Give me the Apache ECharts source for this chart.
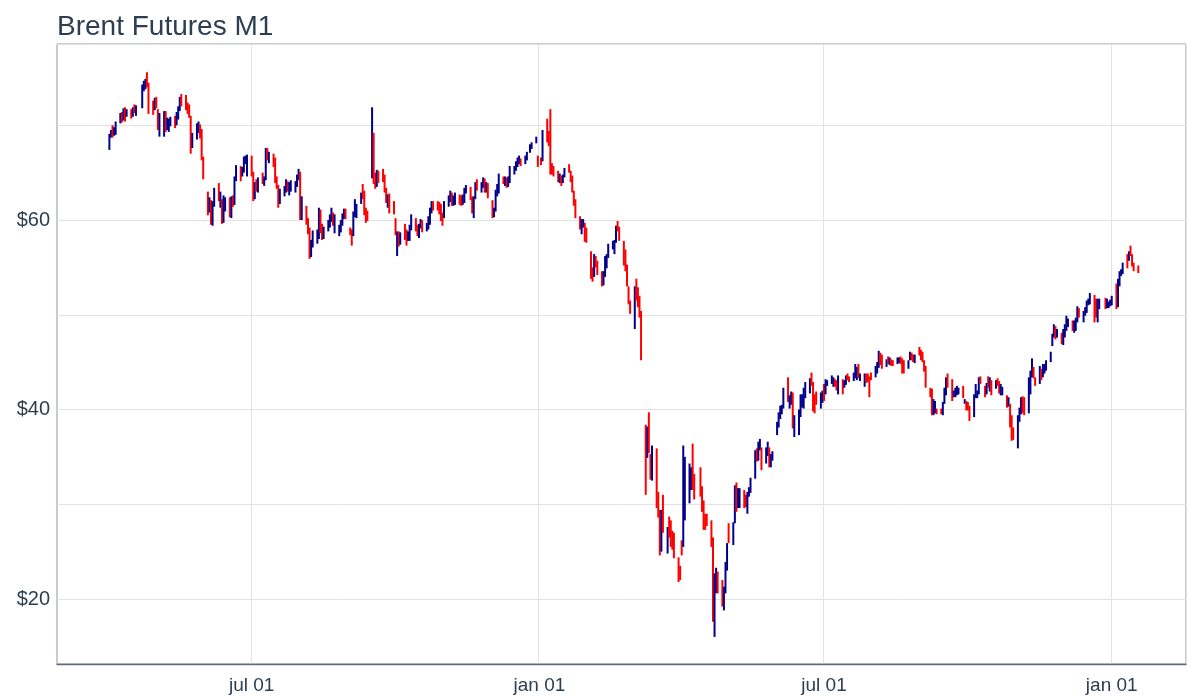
<!DOCTYPE html>
<html lang="en">
<head>
    <meta charset="UTF-8">
    <title>Brent Futures M1</title>
    <script src="https://cdn.jsdelivr.net/npm/echarts@6/dist/echarts.min.js"></script>
    <style>html, body { margin: 0; padding: 0; background: #fff; }</style>
</head>
<body>

<div id="main" style="width:1187px;height:697px"></div>
<script type="text/javascript">

    // daily bars, one line per week (Mon..Fri), null = no session
    var firstDay = '2019-04-01';

    var opens = [
        67.6, 69.0, 69.6, 69.3, 69.4,
        70.4, 71.1, 70.6, 71.7, 71.0,
        71.5, 71.2, 71.8, 71.4, null,
        72.0, 74.0, 74.5, 74.6, 74.3,
        72.2, 72.0, 72.8, 71.5, 70.5,
        69.5, 71.2, 69.9, 70.2, 70.4,
        70.6, 70.2, 71.2, 71.8, 72.6,
        72.5, 72.3, 72.0, 70.9, 67.8,
        68.8, 70.1, 70.1, 69.4, 66.6,
        62.9, 61.3, 62.0, 60.6, 61.7,
        63.3, 62.3, 62.1, 60.0, 61.3,
        62.0, 60.9, 62.1, 61.8, 64.5,
        65.4, 64.9, 65.1, 66.5, 65.0,
        66.7, 65.0, 62.4, 63.8, 63.3,
        64.3, 64.1, 64.3, 67.2, 66.5,
        66.7, 66.5, 64.4, 63.7, 62.0,
        62.6, 63.3, 63.9, 63.2, 63.3,
        63.4, 63.7, 64.7, 65.0, 60.5,
        61.3, 59.8, 59.0, 56.2, 57.4,
        58.5, 58.6, 61.0, 59.5, 58.2,
        58.9, 59.7, 60.1, 60.6, 59.3,
        58.4, 58.9, 59.6, 60.5, 61.1,
        59.0, 58.7, 58.4, 60.7, 60.8,
        61.8, 63.4, 62.6, 60.8, 60.5,
        64.6, 69.0, 64.6, 63.6, 64.7,
        65.2, 64.7, 63.1, 62.0, 62.7,
        61.9, 60.0, 57.0, 57.9, 57.8,
        58.6, 58.4, 58.0, 58.3, 59.1,
        60.1, 59.4, 58.6, 59.4, 60.0,
        58.9, 59.3, 59.7, 61.2, 61.8,
        61.9, 61.6, 61.6, 60.6, 60.4,
        61.7, 62.1, 62.9, 61.8, 62.3,
        62.6, 62.2, 61.9, 62.4, 63.2,
        63.4, 62.4, 60.6, 62.4, 64.2,
        63.4, 63.7, 64.3, 63.2, 63.9,
        62.0, 60.6, 61.0, 62.8, 63.1,
        64.4, 64.3, 64.3, 63.7, 64.2,
        65.2, 65.3, 66.1, 66.2, 66.5,
        66.1, 66.4, null, 67.3, 67.9,
        68.2, 66.7, null, 66.5, 66.3,
        70.4, 69.0, 68.9, 65.8, 65.4,
        65.0, 64.2, 64.5, 64.1, 64.6,
        65.8, 65.2, 64.6, 63.0, 62.1,
        60.4, 59.0, 59.5, 59.6, 58.6,
        56.6, 54.5, 54.1, 56.0, 55.6,
        54.2, 53.3, 54.1, 55.6, 56.3,
        57.3, 57.2, 57.8, 59.6, 59.2,
        57.8, 56.6, 55.2, 53.0, 51.5,
        49.7, 52.9, 52.5, 51.5, 50.4,
        38.3, 35.0, 39.5, 35.0, 33.0,
        33.8, 30.5, 29.0, 25.1, 30.5,
        25.5, 28.5, 28.0, 27.0, 26.5,
        24.0, 23.0, 26.0, 25.6, 29.9,
        30.5, 31.6, 35.5, 33.0, null,
        33.9, 31.8, 29.8, 28.9, 28.6,
        28.0, 26.3, 18.0, 20.7, 22.8,
        21.5, 19.5, 20.8, 23.0, 27.6,
        26.0, 28.2, 31.5, 29.7, 29.9,
        31.2, 30.7, 29.3, 30.9, 31.3,
        32.8, 35.7, 34.7, 35.8, 35.9,
        34.9, 35.5, 36.0, 34.4, 35.0,
        37.4, 38.3, 39.2, 39.6, 40.2,
        43.2, 40.3, 41.0, 41.6, 37.9,
        37.4, 39.7, 40.5, 40.6, 41.4,
        41.8, 43.5, 42.6, 41.5, 41.4,
        40.8, 41.2, 42.5, 42.0, 42.7,
        42.8, 42.9, 43.0, 43.0, 41.8,
        43.2, 42.4, 43.0, 43.8, 43.4,
        43.3, 43.6, 44.0, 44.5, 43.2,
        42.6, 43.5, 43.6, 43.4, 43.9,
        43.5, 44.0, 44.5, 45.8, 45.6,
        44.5, 45.5, 44.8, 45.3, 45.0,
        45.0, 45.2, 45.5, 45.2, 45.0,
        44.4, 45.3, 46.0, 45.7, 45.0,
        46.5, 46.2, 45.8, 45.1, 44.5,
        42.2, 41.9, 39.6, 39.8, 40.1,
        40.0, 39.6, 40.7, 42.0, 43.6,
        43.0, 41.4, 41.5, 41.6, 41.7,
        42.4, 40.7, 40.9, 40.5, 40.3,
        39.3, 41.3, 41.6, 42.0, 43.5,
        42.4, 41.7, 43.4, 42.2, 43.0,
        42.5, 43.3, 43.0, 41.6, 41.6,
        41.4, 40.4, 40.6, 39.4, 38.1,
        37.0, 39.2, 39.9, 41.4, 40.9,
        39.6, 41.8, 43.5, 44.4, 43.4,
        42.8, 44.2, 43.6, 44.0, 44.2,
        45.0, 46.7, 47.9, 48.6, 47.9,
        48.0, 47.3, 47.6, 48.4, 48.8,
        49.3, 48.3, 48.4, 49.2, 50.6,
        49.6, 50.0, 50.6, 51.0, 51.3,
        52.0, 51.0, 49.7, 51.1, null,
        51.6, 50.8, 51.0, 51.2, 51.5,
        51.9, 51.0, 53.6, 54.2, 54.4,
        56.3, 55.8, 56.9, 56.3, 55.4,
        55.2
    ];

    var highs = [
        69.1, 69.5, 70.0, 69.8, 70.4,
        71.3, 71.4, 71.8, 71.9, 71.7,
        71.7, 71.9, 72.2, 72.1, null,
        74.3, 74.7, 74.9, 75.6, 74.5,
        72.6, 72.9, 73.0, 71.7, 71.3,
        71.5, 71.5, 70.8, 70.7, 70.9,
        71.0, 71.4, 72.0, 73.0, 73.3,
        73.2, 72.4, 72.2, 71.0, 69.2,
        70.2, 70.4, 70.1, 69.6, 66.7,
        63.0, 62.4, 62.1, 62.0, 63.4,
        63.9, 63.0, 62.2, 62.6, 62.4,
        62.4, 62.5, 62.6, 64.6, 65.8,
        65.7, 65.6, 66.7, 66.8, 66.9,
        66.8, 65.1, 64.0, 64.3, 64.5,
        65.0, 64.6, 67.6, 67.6, 67.2,
        67.0, 66.6, 64.6, 63.7, 63.3,
        63.6, 64.3, 64.1, 64.0, 64.2,
        64.1, 64.8, 65.4, 65.1, 62.5,
        61.5, 60.2, 59.2, 57.9, 58.9,
        59.0, 61.3, 61.1, 59.6, 59.3,
        60.0, 60.6, 61.3, 60.8, 60.6,
        59.5, 60.0, 60.7, 61.2, 61.2,
        59.2, 59.0, 60.9, 62.2, 61.7,
        62.9, 63.8, 63.1, 61.3, 61.0,
        71.9, 69.2, 65.0, 65.3, 65.2,
        65.4, 64.8, 63.4, 62.7, 62.8,
        62.0, 60.2, 58.8, 58.8, 58.7,
        59.6, 59.0, 58.8, 59.5, 60.6,
        60.2, 59.5, 59.6, 60.1, 60.0,
        59.7, 60.4, 61.3, 62.0, 62.0,
        62.0, 61.9, 61.7, 60.8, 62.0,
        62.6, 63.1, 62.9, 62.6, 62.9,
        62.7, 62.6, 62.7, 63.4, 63.7,
        63.5, 62.5, 62.5, 64.0, 64.3,
        64.0, 64.5, 64.4, 64.0, 63.9,
        62.1, 61.3, 63.2, 63.8, 64.9,
        64.6, 64.6, 64.5, 64.6, 65.7,
        65.7, 66.2, 66.6, 66.8, 66.5,
        66.8, 67.2, null, 68.0, 68.2,
        68.8, 66.8, null, 66.6, 69.5,
        70.7, 69.4, 71.7, 66.0, 65.7,
        65.2, 64.9, 64.7, 64.8, 65.5,
        65.9, 65.2, 64.7, 63.1, 62.2,
        60.4, 60.1, 60.1, 59.7, 59.2,
        56.7, 55.0, 56.4, 56.2, 55.7,
        54.6, 54.6, 56.2, 56.4, 57.5,
        57.8, 57.9, 59.4, 59.9, 59.3,
        57.8, 56.9, 55.3, 53.0, 51.5,
        53.0, 53.8, 52.9, 52.0, 50.4,
        38.4, 38.2, 39.7, 35.3, 36.2,
        35.9, 31.3, 29.4, 29.4, 31.0,
        27.6, 28.7, 28.3, 27.2, 27.0,
        24.4, 23.5, 26.2, 36.2, 35.0,
        34.3, 33.9, 36.4, 33.2, null,
        33.9, 31.9, 30.4, 29.0, 29.0,
        28.3, 26.5, 22.7, 23.3, 22.9,
        22.0, 21.3, 23.9, 25.9, 28.0,
        28.1, 32.0, 32.3, 31.7, 31.7,
        31.5, 31.0, 31.3, 31.8, 32.8,
        35.7, 35.9, 36.6, 36.9, 36.0,
        36.0, 36.6, 36.0, 35.3, 35.6,
        38.7, 39.7, 40.4, 40.5, 42.3,
        43.4, 41.5, 41.9, 41.8, 39.4,
        40.0, 41.6, 41.6, 42.3, 42.9,
        43.3, 43.9, 42.9, 41.6, 41.9,
        41.8, 42.0, 42.7, 43.2, 43.1,
        43.6, 43.4, 43.2, 43.1, 43.6,
        43.2, 43.1, 43.6, 43.8, 43.5,
        43.9, 44.8, 44.5, 44.8, 43.8,
        43.8, 43.8, 43.8, 43.5, 43.9,
        44.6, 45.0, 46.2, 46.0, 45.8,
        45.3, 45.6, 45.5, 45.3, 45.2,
        45.5, 45.5, 45.6, 45.4, 45.2,
        45.2, 46.1, 46.0, 45.8, 45.8,
        46.6, 46.3, 46.1, 45.2, 44.6,
        42.3, 42.2, 41.1, 40.9, 40.1,
        40.1, 40.8, 42.3, 43.4, 43.8,
        43.2, 42.0, 42.3, 42.5, 42.3,
        42.5, 41.1, 40.9, 40.8, 40.4,
        41.6, 42.7, 42.0, 43.4, 43.5,
        42.5, 42.8, 43.5, 43.4, 43.1,
        43.1, 43.3, 43.0, 42.7, 42.4,
        41.5, 41.3, 40.6, 39.4, 38.1,
        39.4, 40.2, 41.3, 41.4, 41.3,
        43.4, 44.1, 45.4, 44.5, 43.4,
        44.6, 44.3, 44.8, 44.8, 45.2,
        46.1, 48.0, 49.0, 48.8, 48.5,
        48.1, 48.5, 49.0, 49.9, 49.6,
        49.4, 49.4, 49.7, 50.9, 50.7,
        50.4, 50.8, 51.5, 51.7, 52.3,
        52.1, 51.7, 51.7, 51.7, null,
        51.8, 51.7, 51.4, 51.6, 52.0,
        53.3, 53.8, 54.6, 54.8, 55.5,
        56.4, 56.7, 57.3, 56.4, 55.5,
        55.2
    ];

    var lows = [
        67.4, 68.7, 68.7, 68.9, 69.0,
        70.2, 70.3, 70.5, 70.4, 70.9,
        70.7, 70.9, 71.3, 71.0, null,
        71.8, 73.6, 73.8, 74.0, 71.2,
        71.1, 71.6, 71.8, 69.5, 68.8,
        68.8, 69.3, 69.5, 69.3, 69.9,
        69.7, 70.0, 70.6, 71.5, 72.0,
        71.6, 71.2, 70.8, 67.0, 67.6,
        68.5, 69.2, 68.6, 66.3, 64.3,
        60.5, 60.8, 59.5, 59.4, 61.4,
        62.0, 61.3, 59.6, 59.7, 60.9,
        60.3, 60.2, 61.4, 61.6, 64.1,
        64.1, 64.6, 65.0, 65.9, 64.6,
        64.6, 62.0, 62.2, 63.0, 62.9,
        63.8, 63.6, 64.2, 66.3, 66.0,
        65.6, 63.9, 63.3, 61.3, 61.7,
        62.5, 62.9, 63.0, 62.6, 63.0,
        62.9, 63.5, 64.2, 60.0, 60.0,
        59.5, 58.5, 55.9, 56.1, 57.1,
        57.5, 58.0, 58.6, 57.9, 58.0,
        58.8, 59.2, 59.8, 59.4, 58.6,
        58.3, 58.7, 59.4, 60.1, 60.1,
        58.4, 57.3, 58.3, 60.3, 60.2,
        61.7, 62.2, 60.5, 59.7, 59.9,
        64.4, 63.8, 63.3, 63.5, 63.9,
        64.0, 62.9, 61.8, 61.3, 60.7,
        60.6, 58.4, 56.2, 57.2, 57.4,
        57.9, 57.3, 57.8, 57.8, 58.9,
        58.8, 58.3, 58.1, 59.1, 58.7,
        58.8, 59.0, 59.5, 60.7, 61.0,
        61.0, 60.6, 59.9, 59.4, 60.2,
        61.4, 61.9, 61.5, 61.5, 61.6,
        61.6, 61.5, 61.6, 61.8, 62.8,
        62.1, 60.7, 60.2, 62.2, 63.1,
        62.9, 63.4, 62.9, 62.9, 62.3,
        60.2, 60.3, 60.9, 62.5, 62.8,
        63.8, 63.6, 63.4, 63.5, 63.9,
        64.8, 65.2, 65.6, 65.9, 65.7,
        65.9, 66.3, null, 67.1, 67.5,
        68.1, 65.6, null, 65.8, 66.2,
        68.2, 67.8, 64.8, 64.8, 64.6,
        64.0, 63.9, 63.6, 63.9, 64.5,
        65.0, 64.0, 62.9, 61.5, 60.2,
        59.0, 58.5, 59.2, 57.7, 57.6,
        53.8, 53.5, 54.0, 55.0, 54.2,
        53.0, 53.1, 54.0, 54.9, 56.0,
        56.9, 56.4, 57.6, 58.8, 57.8,
        55.2, 54.6, 53.0, 51.1, 50.1,
        48.5, 51.5, 50.8, 49.7, 45.2,
        31.0, 34.9, 35.4, 32.6, 32.5,
        29.6, 28.6, 24.6, 25.0, 27.0,
        24.8, 26.5, 25.5, 25.2, 24.3,
        21.8, 22.0, 24.6, 25.5, 28.3,
        30.1, 31.5, 31.5, 30.5, null,
        30.8, 29.2, 27.3, 27.3, 27.7,
        25.5, 17.6, 16.0, 20.6, 20.6,
        19.2, 18.8, 20.6, 23.0, 25.9,
        25.7, 28.0, 29.2, 29.6, 29.6,
        29.6, 29.7, 29.0, 30.8, 31.2,
        32.7, 34.5, 34.6, 35.7, 33.6,
        34.3, 35.1, 33.9, 33.9, 34.6,
        37.3, 38.1, 39.0, 39.5, 40.1,
        40.8, 40.1, 40.5, 38.0, 37.1,
        37.3, 39.2, 40.2, 40.1, 41.2,
        41.7, 42.5, 39.8, 39.6, 40.5,
        40.1, 40.7, 40.9, 41.6, 42.5,
        42.7, 42.4, 42.4, 42.0, 41.6,
        41.6, 42.3, 42.6, 43.1, 42.9,
        43.0, 43.3, 43.1, 43.3, 43.0,
        42.4, 42.8, 42.9, 41.3, 43.1,
        43.4, 43.8, 44.4, 44.7, 44.3,
        44.5, 44.8, 44.7, 44.6, 44.6,
        44.8, 44.9, 44.8, 43.8, 43.8,
        44.3, 45.2, 45.2, 45.0, 44.9,
        45.7, 45.2, 45.0, 44.0, 42.3,
        41.3, 39.4, 39.4, 39.6, 39.5,
        39.5, 39.4, 40.6, 41.5, 42.3,
        40.9, 41.3, 41.3, 41.5, 41.6,
        41.2, 40.6, 39.9, 39.9, 38.8,
        39.2, 41.2, 41.2, 41.6, 42.7,
        41.3, 41.6, 42.3, 41.9, 41.5,
        42.2, 42.5, 41.7, 41.5, 41.5,
        40.2, 40.3, 38.1, 36.7, 36.8,
        35.9, 38.7, 39.5, 39.6, 39.4,
        39.6, 41.6, 43.4, 43.3, 42.5,
        42.7, 43.1, 43.4, 43.8, 44.1,
        45.0, 46.7, 47.6, 47.4, 47.6,
        46.9, 46.8, 47.6, 48.3, 48.7,
        48.3, 48.1, 48.3, 49.2, 49.7,
        49.2, 49.9, 50.2, 51.0, 51.1,
        49.2, 49.7, 49.2, 50.6, null,
        50.6, 50.7, 50.7, 50.9, 51.0,
        50.6, 50.8, 53.0, 54.1, 54.3,
        54.9, 55.7, 56.2, 55.1, 54.6,
        54.4
    ];

    var closes = [
        69.0, 69.4, 69.3, 69.4, 70.3,
        71.1, 70.6, 71.7, 71.0, 71.6,
        71.2, 71.7, 71.6, 72.0, null,
        74.0, 74.5, 74.6, 74.4, 72.2,
        72.0, 72.8, 72.2, 70.8, 70.9,
        71.2, 69.9, 70.4, 70.4, 70.6,
        70.2, 71.2, 71.8, 72.6, 72.2,
        72.0, 72.1, 71.0, 67.8, 68.7,
        70.1, 70.2, 69.5, 66.9, 64.5,
        61.3, 62.0, 60.6, 61.7, 63.3,
        62.3, 62.4, 60.0, 61.3, 62.0,
        60.9, 62.1, 61.8, 64.5, 65.2,
        64.9, 65.1, 66.5, 66.6, 66.6,
        65.1, 62.4, 63.8, 63.3, 64.2,
        64.1, 64.2, 67.0, 66.5, 66.7,
        66.5, 64.4, 63.7, 61.9, 62.5,
        63.3, 63.8, 63.2, 63.4, 63.5,
        63.7, 64.7, 65.2, 60.5, 61.9,
        59.8, 58.9, 56.2, 57.4, 58.5,
        58.6, 61.3, 59.5, 58.2, 58.6,
        59.7, 60.0, 60.3, 59.9, 59.5,
        58.9, 59.5, 60.5, 61.1, 60.4,
        58.7, 58.3, 60.7, 61.0, 61.5,
        62.6, 62.4, 60.8, 60.4, 60.2,
        69.0, 64.6, 63.6, 64.4, 64.3,
        64.8, 63.1, 62.4, 62.5, 61.9,
        60.8, 58.9, 57.7, 57.7, 58.4,
        58.4, 58.2, 58.3, 59.1, 60.5,
        59.4, 58.7, 59.4, 59.9, 59.4,
        59.3, 59.7, 61.2, 61.7, 61.0,
        61.6, 61.5, 60.6, 60.2, 61.7,
        62.1, 63.0, 61.7, 62.3, 62.5,
        62.2, 62.1, 62.4, 63.3, 63.3,
        62.4, 60.9, 62.4, 64.0, 63.4,
        63.7, 64.3, 63.1, 63.9, 62.4,
        60.9, 60.8, 63.0, 63.0, 64.4,
        64.3, 64.4, 63.7, 64.2, 65.2,
        65.3, 66.1, 66.2, 66.5, 66.1,
        66.4, 67.2, null, 67.9, 68.2,
        68.4, 66.0, null, 66.3, 68.6,
        68.9, 68.3, 65.4, 65.4, 65.0,
        64.2, 64.5, 64.0, 64.6, 64.9,
        65.2, 64.6, 63.2, 62.0, 60.7,
        59.3, 59.5, 59.8, 58.3, 58.2,
        54.5, 54.0, 55.3, 55.7, 54.5,
        53.3, 54.0, 55.8, 56.3, 57.3,
        57.7, 57.8, 59.1, 59.3, 58.5,
        56.3, 55.0, 53.4, 52.2, 50.5,
        51.9, 51.9, 51.1, 50.0, 45.3,
        34.4, 37.2, 35.8, 33.2, 33.9,
        30.1, 28.7, 24.9, 28.5, 27.0,
        27.0, 27.2, 27.4, 26.3, 24.9,
        22.8, 22.7, 24.7, 29.9, 34.1,
        33.1, 31.9, 32.8, 31.5, null,
        31.7, 29.6, 27.7, 27.8, 28.1,
        25.6, 19.3, 20.4, 21.3, 21.4,
        20.0, 20.5, 22.5, 25.3, 26.4,
        27.2, 31.0, 29.7, 29.9, 31.0,
        29.6, 30.0, 30.9, 31.1, 32.5,
        34.8, 34.7, 35.8, 36.1, 35.1,
        35.5, 36.2, 34.7, 35.3, 35.3,
        38.3, 39.6, 39.8, 40.0, 42.3,
        40.8, 41.2, 41.7, 38.6, 38.7,
        39.7, 41.0, 40.7, 41.5, 42.2,
        42.9, 43.1, 40.3, 41.1, 41.0,
        41.7, 41.5, 42.0, 43.1, 42.9,
        43.1, 43.1, 42.7, 42.4, 43.2,
        42.7, 42.9, 43.5, 43.4, 43.1,
        43.6, 44.3, 44.3, 43.3, 43.3,
        43.4, 43.2, 43.3, 42.9, 43.3,
        44.2, 44.4, 45.2, 45.1, 44.4,
        45.0, 44.9, 45.4, 45.0, 44.8,
        45.4, 45.5, 45.2, 44.9, 44.4,
        45.1, 45.9, 45.6, 45.1, 45.8,
        45.9, 45.6, 45.1, 44.3, 42.7,
        42.0, 39.8, 40.8, 40.1, 39.8,
        39.6, 40.5, 42.2, 43.3, 43.2,
        41.4, 41.7, 41.8, 41.9, 41.9,
        41.5, 41.0, 40.4, 40.2, 39.3,
        41.3, 42.6, 42.0, 43.3, 42.9,
        41.7, 42.5, 43.2, 43.2, 42.9,
        42.6, 43.0, 41.8, 42.5, 41.8,
        40.5, 41.0, 39.1, 37.7, 37.5,
        39.2, 40.0, 41.2, 40.9, 39.5,
        42.4, 43.6, 44.0, 43.5, 42.8,
        43.8, 43.7, 44.3, 44.2, 45.0,
        46.1, 47.9, 48.6, 47.8, 48.2,
        47.6, 47.4, 48.3, 48.7, 49.3,
        48.8, 48.8, 48.9, 50.3, 50.0,
        50.3, 50.8, 51.1, 51.5, 52.3,
        50.9, 50.1, 51.2, 51.3, null,
        50.9, 51.1, 51.3, 51.5, 51.8,
        51.1, 53.6, 54.3, 54.4, 55.4,
        55.7, 56.6, 56.3, 55.8, 55.1,
        54.8
    ];

    // x axis runs over every calendar day
    var axisStart = '2019-02-27';
    var axisEnd = '2021-02-17';
    var monthNames = ['jan', 'feb', 'mar', 'apr', 'may', 'jun', 'jul', 'aug', 'sep', 'oct', 'nov', 'dec'];
    var yLabelValues = [20, 40, 60];

    var upColor = '#00008b';
    var downColor = '#ff0000';
    var DAY = 86400000;

    function ymd(t) {
        return new Date(t).toISOString().slice(0, 10);
    }

    function isMarked(value) {
        return /-(01|07)-01$/.test(value);
    }

    window.onload = function () {
        var t0 = Date.parse(axisStart);
        var categories = [];
        for (var t = t0; t <= Date.parse(axisEnd); t += DAY) {
            categories.push(ymd(t));
        }

        var bars = [];
        var i = 0;
        var d = Date.parse(firstDay);
        while (i < opens.length) {
            var wd = new Date(d).getUTCDay();
            if (wd > 0 && wd < 6) {
                if (opens[i] !== null) {
                    bars.push([Math.round((d - t0) / DAY), opens[i], closes[i], lows[i], highs[i]]);
                }
                i++;
            }
            d += DAY;
        }

        var myChart = echarts.init(document.getElementById('main'));
        var option = {
            animation: false,
            backgroundColor: '#ffffff',
            title: {
                text: 'Brent Futures M1',
                left: 52,
                top: 8,
                textStyle: {
                    fontFamily: 'Liberation Sans',
                    fontSize: 28,
                    fontWeight: 'normal',
                    color: '#2c3e50'
                }
            },
            grid: {
                left: 57,
                right: 1,
                top: 44,
                bottom: 33,
                show: true,
                borderColor: '#8a96a3',
                borderWidth: 1
            },
            xAxis: {
                type: 'category',
                data: categories,
                boundaryGap: true,
                axisLine: { lineStyle: { color: '#5d6d7e', width: 1.3 } },
                axisTick: { show: false },
                axisLabel: {
                    interval: function (index, value) { return isMarked(value); },
                    formatter: function (value) {
                        return monthNames[+value.slice(5, 7) - 1] + ' ' + value.slice(8, 10);
                    },
                    color: '#2c3e50',
                    fontFamily: 'Liberation Sans',
                    fontSize: 19,
                    margin: 12
                },
                splitLine: {
                    show: true,
                    interval: function (index, value) { return isMarked(value); },
                    lineStyle: { color: '#e2e2e2', width: 1 }
                }
            },
            yAxis: {
                type: 'value',
                min: 13.14,
                max: 78.58,
                minInterval: 10,
                maxInterval: 10,
                axisLine: { show: false },
                axisTick: { show: false },
                axisLabel: {
                    showMinLabel: false,
                    showMaxLabel: false,
                    formatter: function (v) {
                        return yLabelValues.indexOf(v) >= 0 ? '$' + v : '';
                    },
                    color: '#2c3e50',
                    fontFamily: 'Liberation Sans',
                    fontSize: 20,
                    margin: 7
                },
                splitLine: { lineStyle: { color: '#e2e2e2', width: 1 } }
            },
            series: [{
                type: 'custom',
                data: bars,
                encode: { x: 0, y: [1, 2, 3, 4] },
                renderItem: function (params, api) {
                    var x = api.value(0);
                    var lo = api.coord([x, api.value(3)]);
                    var hi = api.coord([x, api.value(4)]);
                    var up = api.value(2) >= api.value(1);
                    return {
                        type: 'line',
                        shape: { x1: lo[0], y1: lo[1], x2: hi[0], y2: hi[1] },
                        style: { stroke: up ? upColor : downColor, lineWidth: 2 }
                    };
                }
            }]
        };
        myChart.setOption(option, true);
    };

</script>

</body>
</html>
